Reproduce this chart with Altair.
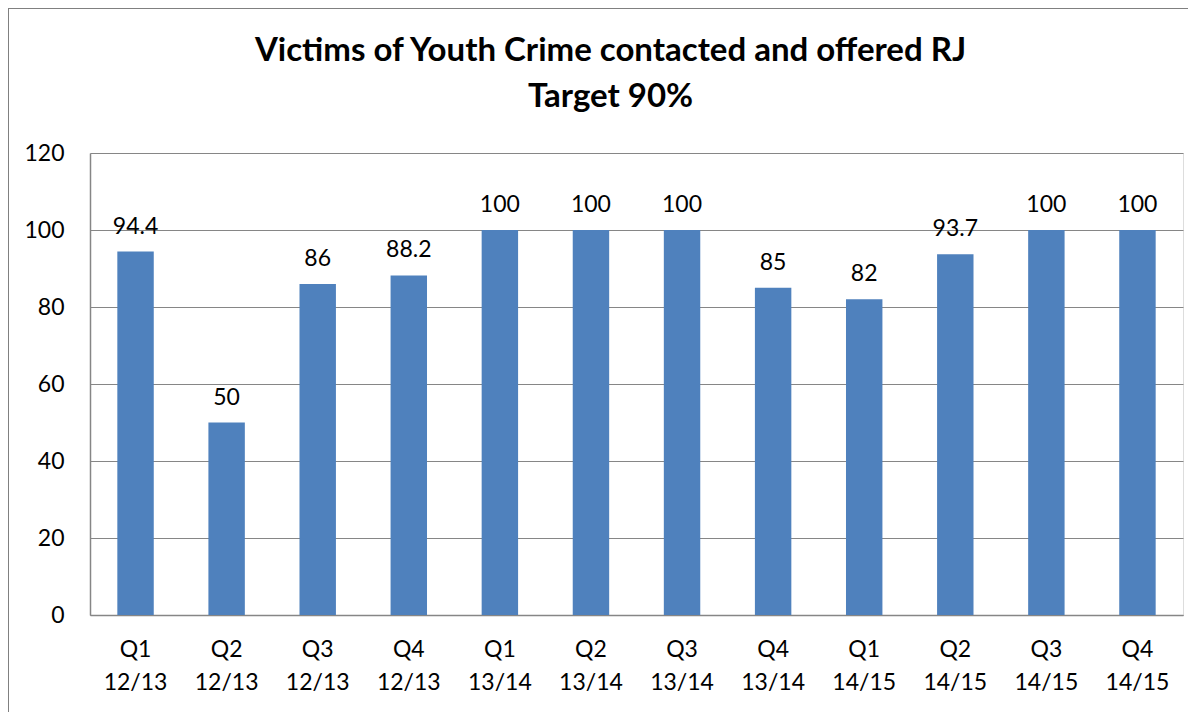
import altair as alt
import pandas as pd

categories = ["Q1 12/13", "Q2 12/13", "Q3 12/13", "Q4 12/13",
              "Q1 13/14", "Q2 13/14", "Q3 13/14", "Q4 13/14",
              "Q1 14/15", "Q2 14/15", "Q3 14/15", "Q4 14/15"]
values = [94.4, 50, 86, 88.2, 100, 100, 100, 85, 82, 93.7, 100, 100]
labels = ["94.4", "50", "86", "88.2", "100", "100", "100", "85", "82", "93.7", "100", "100"]
y_ticks = [0, 20, 40, 60, 80, 100, 120]

df = pd.DataFrame({"cat": categories, "value": values, "label": labels})

FONT = "Lato"
W, H = 1093, 462

x = alt.X("cat:N", sort=categories, title=None,
          scale=alt.Scale(paddingInner=0.6, paddingOuter=0.3),
          axis=alt.Axis(labelAngle=0, labelExpr="split(datum.label, ' ')",
                        labelFontSize=23, labelFont=FONT, labelColor="#000000",
                        labelPadding=23, labelLineHeight=33, ticks=False,
                        domainColor="#868686", domainWidth=1.5, grid=False))
y = alt.Y("value:Q", title=None,
          scale=alt.Scale(domain=[0, 120], nice=False),
          axis=alt.Axis(values=y_ticks, labelFontSize=23, labelFont=FONT,
                        labelColor="#000000", labelPadding=26, ticks=False,
                        domainColor="#868686", domainWidth=1.5,
                        gridColor="#868686", gridWidth=1))

frame = alt.Chart(df).mark_rect(fill=None, stroke="#808080", strokeWidth=3).encode(
    x=alt.value(-83), x2=alt.value(1300), y=alt.value(-146), y2=alt.value(800)
)

bars = alt.Chart(df).mark_bar(color="#4F81BD").encode(x=x, y=y)

text = alt.Chart(df).mark_text(baseline="alphabetic", dy=-18, fontSize=23,
                               font=FONT, color="#000000").encode(
    x=alt.X("cat:N", sort=categories), y="value:Q", text="label:N")

chart = alt.layer(frame, bars, text).properties(
    width=W, height=H,
    title=alt.TitleParams(["Victims of Youth Crime contacted and offered RJ", "Target 90%"],
                          font=FONT, fontSize=33, fontWeight="bold", color="#000000",
                          anchor="middle", frame="group", offset=-108, lineHeight=46, dx=-26),
    autosize=alt.AutoSizeParams(type="none"),
    padding={"left": 82, "top": 145, "right": 5, "bottom": 97},
).configure_view(stroke=None).configure(background="#ffffff")

chart.save("out.html", embed_options={"renderer": "svg", "actions": False})
